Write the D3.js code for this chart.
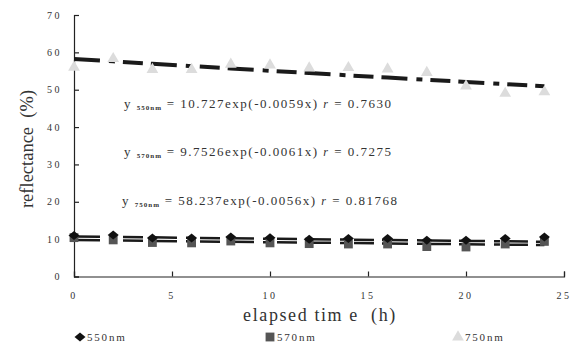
<!DOCTYPE html>
<html>
<head>
<meta charset="utf-8">
<script src="https://cdn.jsdelivr.net/npm/d3@7"></script>
<style>
  html, body { margin: 0; padding: 0; background: #fff; }
  svg { display: block; }
  text { font-family: "Liberation Serif", "Times New Roman", serif; fill: #333; }
</style>
</head>
<body>
<svg id="chart" width="578" height="347"></svg>
<script>
// Sampling times (h)
const hours = [0, 2, 4, 6, 8, 10, 12, 14, 16, 18, 20, 22, 24];

// Measured reflectance (%) per wavelength
const r550 = [11.0, 11.1, 10.3, 10.3, 10.6, 10.4, 10.0, 10.2, 10.2, 9.7, 9.7, 10.2, 10.6];
const r570 = [10.4, 9.8, 9.1, 9.0, 9.5, 9.0, 8.8, 8.7, 8.7, 8.0, 7.9, 8.7, 9.4];
const r750 = [56.0, 58.3, 55.4, 55.4, 56.8, 56.6, 55.8, 55.9, 55.5, 54.6, 51.0, 49.0, 49.4];

// Exponential fits y = a·exp(b·x) and correlation coefficients
const fitNames = ["550nm", "570nm", "750nm"];
const fitA = [10.727, 9.7526, 58.237];
const fitB = [-0.0059, -0.0061, -0.0056];
const fitR = ["0.7630", "0.7275", "0.81768"];

// Axis ticks
const xTicks = [0, 5, 10, 15, 20, 25];
const yTicks = [0, 10, 20, 30, 40, 50, 60, 70];

const svg = d3.select("#chart");
const x = d3.scaleLinear().domain([0, 25]).range([74, 564]);
const y = d3.scaleLinear().domain([0, 70]).range([276.5, 15]);

// Axes with inward ticks
const xAxis = svg.append("g").attr("transform", `translate(0,${y(0)})`)
  .call(d3.axisBottom(x).tickValues(xTicks).tickSize(-5).tickFormat(""));
const yAxis = svg.append("g").attr("transform", `translate(${x(0)},0)`)
  .call(d3.axisLeft(y).tickValues(yTicks).tickSize(-5).tickFormat(""));
[xAxis, yAxis].forEach(g => {
  g.select(".domain").attr("stroke", "#222").attr("stroke-width", 1.2);
  g.selectAll(".tick line").attr("stroke", "#222").attr("stroke-width", 1.2);
});

// Tick labels
svg.append("g").selectAll("text").data(xTicks).join("text")
  .attr("x", d => x(d)).attr("y", 299)
  .attr("text-anchor", "middle")
  .attr("font-size", 10).attr("letter-spacing", 2.5)
  .text(d => d);
svg.append("g").selectAll("text").data(yTicks).join("text")
  .attr("x", 62).attr("y", d => y(d) + 3.5)
  .attr("text-anchor", "end")
  .attr("font-size", 10).attr("letter-spacing", 2.5)
  .text(d => d);

// Axis titles
svg.append("text")
  .attr("x", 320).attr("y", 321)
  .attr("text-anchor", "middle")
  .attr("font-size", 18).attr("letter-spacing", 1.6)
  .attr("xml:space", "preserve")
  .text("elapsed tim e  (h)");
svg.append("text")
  .attr("transform", "translate(33,149) rotate(-90)")
  .attr("text-anchor", "middle")
  .attr("font-size", 18.5)
  .attr("xml:space", "preserve")
  .text("reflectance  (%)");

// Trend lines from the fitted equations
const fitLine = d3.line().x(d => x(d[0])).y(d => y(d[1]));
const fitWidths = [2.5, 2.5, 4];
fitA.forEach((a, i) => {
  const pts = hours.map(t => [t, a * Math.exp(fitB[i] * t)]);
  svg.append("path")
    .attr("d", fitLine(pts))
    .attr("fill", "none")
    .attr("stroke", "#1a1a1a")
    .attr("stroke-width", fitWidths[i])
    .attr("stroke-dasharray", "26,9,6,8,20,8");
});

// Markers: wide diamond, square, triangle
const diamondPath = "M-5.5,0L0,-4.5L5.5,0L0,4.5Z";
const symSquare = d3.symbol().type(d3.symbolSquare).size(78);
const symTriangle = d3.symbol().type(d3.symbolTriangle).size(60);

svg.append("g").selectAll("path").data(hours.map((t, i) => [t, r750[i]])).join("path")
  .attr("transform", d => `translate(${x(d[0])},${y(d[1])})`)
  .attr("d", symTriangle).attr("fill", "#dcdcdc");
svg.append("g").selectAll("path").data(hours.map((t, i) => [t, r570[i]])).join("path")
  .attr("transform", d => `translate(${x(d[0])},${y(d[1])})`)
  .attr("d", symSquare).attr("fill", "#555");
svg.append("g").selectAll("path").data(hours.map((t, i) => [t, r550[i]])).join("path")
  .attr("transform", d => `translate(${x(d[0])},${y(d[1])})`)
  .attr("d", diamondPath).attr("fill", "#111");

// Fit equations
const eqY = [108, 156, 205];
const eqX = [124, 124, 122];
fitA.forEach((a, i) => {
  const t = svg.append("text").attr("x", eqX[i]).attr("y", eqY[i])
    .attr("font-size", 13).attr("letter-spacing", 1.5).attr("xml:space", "preserve");
  t.append("tspan").text("y ");
  t.append("tspan").attr("font-size", 7).attr("font-weight", "bold").attr("dy", 2)
    .attr("letter-spacing", 1).text(fitNames[i]);
  t.append("tspan").attr("dy", -2).text(` = ${a}exp(${fitB[i]}x) `);
  t.append("tspan").attr("font-style", "italic").attr("font-size", 12).text("r");
  t.append("tspan").text(` = ${fitR[i]}`);
});

// Legend
const legY = 337;
const legend = [
  { d: diamondPath, fill: "#111", x: 80, label: "550nm" },
  { d: symSquare(), fill: "#555", x: 270, label: "570nm" },
  { d: symTriangle(), fill: "#dcdcdc", x: 458, label: "750nm" }
];
legend.forEach(l => {
  svg.append("path").attr("transform", `translate(${l.x},${legY})`)
    .attr("d", l.d).attr("fill", l.fill);
  svg.append("text").attr("x", l.x + 7).attr("y", legY + 4)
    .attr("font-size", 11).attr("letter-spacing", 1.8).text(l.label);
});
</script>
</body>
</html>
